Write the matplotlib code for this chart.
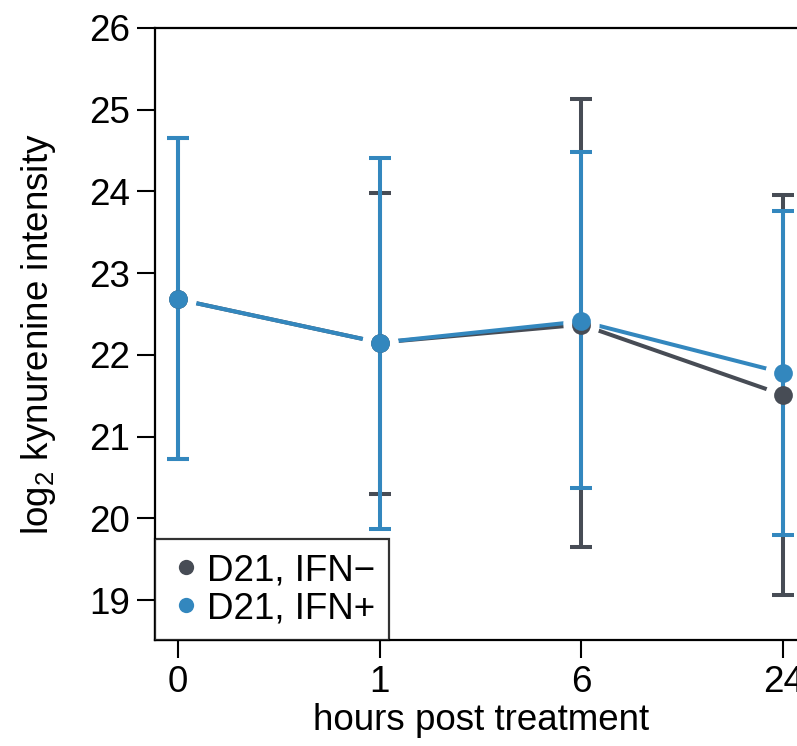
import matplotlib
matplotlib.use("Agg")
import matplotlib.pyplot as plt
from matplotlib.lines import Line2D
import numpy as np

plt.rcParams['font.family'] = ['Liberation Sans', 'DejaVu Sans']
plt.rcParams['mathtext.fontset'] = 'custom'
plt.rcParams['mathtext.rm'] = 'Liberation Sans'
plt.rcParams['mathtext.it'] = 'Liberation Sans'

categories = ["0", "1", "6", "24"]
series_names = ["D21, IFN\u2212", "D21, IFN+"]
colors = ["#474c55", "#3387be"]

mean_neg = [22.68, 22.15, 22.37, 21.51]
upper_neg = [24.65, 23.98, 25.13, 23.96]
lower_neg = [20.73, 20.30, 19.65, 19.06]

mean_pos = [22.68, 22.15, 22.41, 21.78]
upper_pos = [24.65, 24.41, 24.48, 23.76]
lower_pos = [20.73, 19.87, 20.37, 19.80]

yticks = [19, 20, 21, 22, 23, 24, 25, 26]

FS = 26.5

fig = plt.figure(figsize=(7.97, 7.46), dpi=100)
ax = fig.add_axes([0.1945, 0.142, 0.817, 0.8205])
x = np.arange(len(categories))

series = [(mean_neg, upper_neg, lower_neg), (mean_pos, upper_pos, lower_pos)]
for i, ((m, u, l), c) in enumerate(zip(series, colors)):
    m = np.array(m); u = np.array(u); l = np.array(l)
    ax.plot(x, m, color=c, lw=2.9, zorder=1 + 0.1 * i, solid_capstyle='round')
    ax.plot(x, m, 'o', color='white', ms=26, mew=0, zorder=2)
    ax.errorbar(x, m, yerr=[m - l, u - m], fmt='none', ecolor=c,
                elinewidth=2.9, capsize=7.9, capthick=2.9, zorder=3 + 0.1 * i)
    ax.plot(x, m, 'o', color=c, ms=13.5, mew=0, zorder=4 + 0.1 * i)

ax.set_xlim(-0.114, 3.114)
ax.set_ylim(18.51, 26)
ax.set_xticks(x)
ax.set_xticklabels(categories)
ax.set_yticks(yticks)
ax.tick_params(axis='both', labelsize=FS, length=13, width=1.5, direction='out', pad=5)
for s in ['left', 'top', 'bottom', 'right']:
    ax.spines[s].set_linewidth(1.6)
ax.spines['right'].set_visible(False)

ax.set_xlabel("hours post treatment", fontsize=FS, labelpad=2)
ax.set_ylabel(r"log$_2$ kynurenine intensity", fontsize=FS, labelpad=22)

handles = [Line2D([], [], marker='o', color=c, ls='none', ms=11, mew=0) for c in colors]
leg = ax.legend(handles, series_names, loc='lower left', bbox_to_anchor=(0, 0),
                borderaxespad=0, fontsize=FS, frameon=True, fancybox=False,
                handletextpad=0.12, handlelength=0.9, borderpad=0.38,
                labelspacing=0.08)
leg.get_frame().set_edgecolor('black')
leg.get_frame().set_linewidth(1.6)
leg.set_zorder(30)

fig.savefig("out.png", dpi=100)
